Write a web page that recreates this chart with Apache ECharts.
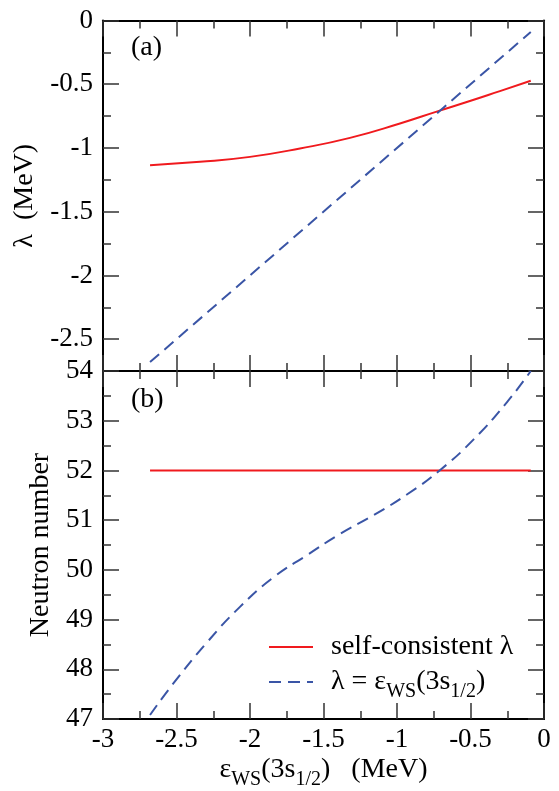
<!DOCTYPE html>
<html>
<head>
<meta charset="utf-8">
<script src="https://cdn.jsdelivr.net/npm/echarts@6/dist/echarts.min.js"></script>
<style>
  html, body { margin: 0; padding: 0; background: #fff; }
  #chart { width: 559px; height: 791px; }
</style>
</head>
<body>
<div id="chart"></div>
<script>
// panel (a): chemical potential vs WS 3s1/2 energy
var epsSC = [-2.68, -2.34, -2.0, -1.66, -1.32, -0.98, -0.72, -0.52, -0.30, -0.09];
var lambdaSC = [-1.135, -1.109, -1.070, -1.004, -0.921, -0.808, -0.711, -0.638, -0.554, -0.473];
var epsWS = [-2.68, -0.09];
var lambdaWS = [-2.68, -0.09];

// panel (b): neutron number
var epsN = [-2.68, -0.09];
var nSC = [52, 52];
var epsNWS = [-2.68, -2.52, -2.29, -2.07, -1.84, -1.61, -1.39, -1.16, -0.93, -0.71, -0.48, -0.25, -0.09];
var nWS = [47.08, 47.72, 48.55, 49.25, 49.85, 50.30, 50.72, 51.10, 51.52, 52.00, 52.62, 53.38, 54.0];

var topMajor = [-2.5, -2, -1.5, -1, -0.5, 0];

var FONT = "'Liberation Serif', 'Times New Roman', serif";
var RED = '#f01a1e';
var BLUE = '#3a55a6';
var nameSC = 'self-consistent λ';
var nameWS = 'λ = εWS(3s1/2)';

function pairs(xs, ys) {
    return xs.map(function (x, i) { return [x, ys[i]]; });
}

var rich = {
    n: { fontFamily: FONT, fontSize: 28, color: '#000' },
    s: { fontFamily: FONT, fontSize: 20, color: '#000', padding: [20, 0, 0, 0] }
};

var line = { onZero: false, lineStyle: { color: '#000', width: 2 } };
var tick = { inside: true, length: 16, lineStyle: { color: '#333', width: 1.5 } };
var minor = { show: true, splitNumber: 2, length: 8, lineStyle: { color: '#333', width: 1.5 } };
var tickFont = { fontFamily: FONT, fontSize: 27, color: '#000' };

function xAx(grid, pos, extra) {
    return Object.assign({
        type: 'value', gridIndex: grid, position: pos,
        min: -3, max: 0, interval: 0.5,
        axisLine: line, axisTick: tick, minorTick: minor,
        axisLabel: { show: false }, splitLine: { show: false }
    }, extra || {});
}

function yBottom(pos, extra) {
    return Object.assign({
        type: 'value', gridIndex: 1, position: pos,
        min: 47, max: 54, interval: 1,
        axisLine: line, axisTick: tick, minorTick: minor,
        axisLabel: { show: false }, splitLine: { show: false }
    }, extra || {});
}

function yTop(pos, withMajor, extra) {
    return Object.assign({
        type: 'value', gridIndex: 0, position: pos,
        min: -2.75, max: 0, interval: 0.25,
        axisLine: withMajor ? { show: false, onZero: false } : line,
        axisTick: withMajor
            ? { inside: true, length: 16, customValues: topMajor, lineStyle: { color: '#333', width: 1.5 } }
            : { inside: true, length: 8, lineStyle: { color: '#333', width: 1.5 } },
        axisLabel: { show: false }, splitLine: { show: false }
    }, extra || {});
}

var chart = echarts.init(document.getElementById('chart'));

chart.setOption({
    backgroundColor: '#fff',
    animation: false,
    grid: [
        { left: 103, top: 20.5, width: 441, height: 350.5 },
        { left: 103, top: 371, width: 441, height: 350 }
    ],
    xAxis: [
        xAx(0, 'bottom'),
        xAx(0, 'top'),
        xAx(1, 'top'),
        xAx(1, 'bottom', {
            axisLabel: Object.assign({ show: true, margin: 7 }, tickFont),
            name: '{n|ε}{s|WS}{n|(3s}{s|1/2}{n|)   (MeV)}',
            nameLocation: 'middle',
            nameGap: 31,
            nameTextStyle: { rich: rich }
        })
    ],
    yAxis: [
        yTop('left', false, {
            axisLabel: Object.assign({
                show: true, margin: 10,
                formatter: function (v) {
                    return Math.abs(v * 2 - Math.round(v * 2)) < 1e-6 ? String(v) : '';
                }
            }, tickFont),
            name: 'λ  (MeV)',
            nameLocation: 'middle',
            nameGap: 64,
            nameTextStyle: { fontFamily: FONT, fontSize: 28, color: '#000' }
        }),
        yTop('left', true),
        yTop('right', false),
        yTop('right', true),
        yBottom('left', {
            axisLabel: Object.assign({ show: true, margin: 10 }, tickFont),
            name: 'Neutron number',
            nameLocation: 'middle',
            nameGap: 44,
            nameTextStyle: { fontFamily: FONT, fontSize: 28, color: '#000' }
        }),
        yBottom('right')
    ],
    legend: {
        orient: 'vertical',
        left: 263,
        top: 628,
        itemWidth: 44,
        itemHeight: 14,
        itemGap: 7,
        data: [nameSC, nameWS],
        itemStyle: { color: 'rgba(0,0,0,0)', borderColor: 'rgba(0,0,0,0)', borderWidth: 0 },
        formatter: function (name) {
            return name === nameWS
                ? '{n|λ = ε}{s|WS}{n|(3s}{s|1/2}{n|)}'
                : '{n|' + name + '}';
        },
        textStyle: { fontFamily: FONT, fontSize: 28, padding: [0, 0, 0, 13], rich: rich }
    },
    graphic: [
        { type: 'text', left: 131, top: 34, style: { text: '(a)', font: '28px "Liberation Serif"', fill: '#000' } },
        { type: 'text', left: 131, top: 386, style: { text: '(b)', font: '28px "Liberation Serif"', fill: '#000' } }
    ],
    series: [
        {
            name: nameSC, type: 'line', xAxisIndex: 0, yAxisIndex: 0,
            data: pairs(epsSC, lambdaSC), smooth: 0.5, symbol: 'none',
            lineStyle: { color: RED, width: 2 }, itemStyle: { color: RED }
        },
        {
            name: nameWS, type: 'line', xAxisIndex: 0, yAxisIndex: 0,
            data: pairs(epsWS, lambdaWS), symbol: 'none',
            lineStyle: { color: BLUE, width: 2, type: [12, 7] }, itemStyle: { color: BLUE }
        },
        {
            name: nameSC, type: 'line', xAxisIndex: 3, yAxisIndex: 4,
            data: pairs(epsN, nSC), symbol: 'none',
            lineStyle: { color: RED, width: 2 }, itemStyle: { color: RED }
        },
        {
            name: nameWS, type: 'line', xAxisIndex: 3, yAxisIndex: 4,
            data: pairs(epsNWS, nWS), smooth: 0.5, symbol: 'none',
            lineStyle: { color: BLUE, width: 2, type: [12, 7] }, itemStyle: { color: BLUE }
        }
    ]
});
</script>
</body>
</html>
